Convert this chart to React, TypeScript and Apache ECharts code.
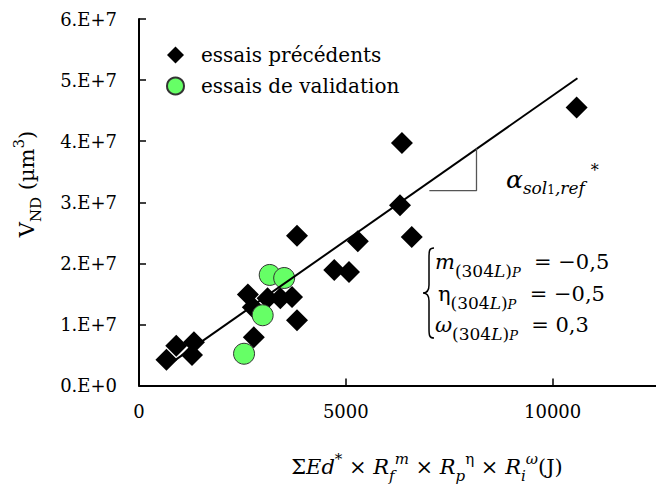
import React, { useEffect, useRef } from "react";
import * as echarts from "echarts";

// ---- data ----
const precedX = [664, 901, 1281, 1329, 2633, 2752, 2776, 3108, 3416, 3700, 3820, 3820, 4721, 5077, 5290, 6310, 6358, 6595, 10581];
const precedY = [4.2e6, 6.5e6, 5.0e6, 7.1e6, 1.49e7, 1.28e7, 0.79e7, 1.43e7, 1.43e7, 1.45e7, 1.07e7, 2.45e7, 1.89e7, 1.86e7, 2.36e7, 2.95e7, 3.97e7, 2.43e7, 4.55e7];
const validX = [2540, 2990, 3160, 3510];
const validY = [5.2e6, 1.15e7, 1.81e7, 1.76e7];
const trendX = [650, 10600];
const trendY = [3.1e6, 5.03e7];
const slopeX = [7020, 8160, 8160];
const slopeY = [3.19e7, 3.19e7, 3.88e7];
const legendNames = ["essais précédents", "essais de validation"];
const xMin = 0;
const xMax = 12500;
const xInterval = 5000;
const yMin = 0;
const yMax = 6e7;
const yInterval = 1e7;

const FONT = "DejaVu Serif";
const bracePath = "M11,0 C6,0 6,3 6,10 L6,37 C6,42 4,45 0,45 C4,45 6,48 6,53 L6,80 C6,87 6,90 11,90";

function yLabel(v: number): string {
  const m = Math.round(v / 1e7);
  return m === 0 ? "0.E+0" : `${m}.E+7`;
}

export default function App() {
  const ref = useRef<HTMLDivElement>(null);
  useEffect(() => {
    try {
      echarts.graphic.registerShape("brace", echarts.graphic.extendPath(bracePath, {}) as any);
    } catch (e) {}
    const chart = echarts.init(ref.current!, null, { renderer: "svg" });
    const M = 21;
    const eqRich = {
      m: { fontSize: M, fontFamily: FONT, lineHeight: 34, fill: "#000" },
      mi: { fontSize: M, fontFamily: FONT, fontStyle: "italic", lineHeight: 34, fill: "#000" },
      s: { fontSize: 17, fontFamily: FONT, lineHeight: 25, verticalAlign: "bottom", fill: "#000" },
      si: { fontSize: 17, fontFamily: FONT, fontStyle: "italic", lineHeight: 25, verticalAlign: "bottom", fill: "#000" },
      s2: { fontSize: 13, fontFamily: FONT, fontStyle: "italic", lineHeight: 14, verticalAlign: "bottom", fill: "#000" },
    };
    const titleRich = {
      m: { fontSize: 21, fontFamily: FONT, lineHeight: 32, fill: "#000" },
      i: { fontSize: 21, fontFamily: FONT, fontStyle: "italic", lineHeight: 32, fill: "#000" },
      sub: { fontSize: 15, fontFamily: FONT, lineHeight: 22, verticalAlign: "bottom", fill: "#000" },
      subi: { fontSize: 15, fontFamily: FONT, fontStyle: "italic", lineHeight: 22, verticalAlign: "bottom", fill: "#000" },
      sup: { fontSize: 15, fontFamily: FONT, lineHeight: 20, verticalAlign: "top", fill: "#000" },
      supi: { fontSize: 15, fontFamily: FONT, fontStyle: "italic", lineHeight: 20, verticalAlign: "top", fill: "#000" },
    };
    const alphaRich = {
      a: { fontSize: 25, fontFamily: FONT, fontStyle: "italic", lineHeight: 34, fill: "#000" },
      s: { fontSize: 17, fontFamily: FONT, fontStyle: "italic", lineHeight: 24, verticalAlign: "bottom", fill: "#000" },
      s2: { fontSize: 12, fontFamily: FONT, lineHeight: 14, verticalAlign: "bottom", fill: "#000" },
      sup: { fontSize: 16, fontFamily: FONT, lineHeight: 14, verticalAlign: "top", fill: "#000", padding: [0, 0, 0, 6] },
    };
    const option: any = {
      animation: false,
      backgroundColor: "#fff",
      textStyle: { fontFamily: FONT },
      grid: { left: 139, top: 19, width: 527, height: 366.5 },
      xAxis: {
        type: "value",
        min: xMin,
        max: xMax,
        interval: xInterval,
        axisLine: { show: true, lineStyle: { color: "#000", width: 2 } },
        axisTick: { show: true, inside: true, length: 7, lineStyle: { color: "#000", width: 1.5 } },
        axisLabel: { color: "#000", fontSize: 18, fontFamily: FONT, margin: 17, showMaxLabel: false, formatter: (v: number) => String(v) },
        splitLine: { show: false },
      },
      yAxis: {
        type: "value",
        min: yMin,
        max: yMax,
        interval: yInterval,
        axisLine: { show: true, lineStyle: { color: "#000", width: 2 } },
        axisTick: { show: true, inside: true, length: 7, lineStyle: { color: "#000", width: 1.5 } },
        axisLabel: { color: "#000", fontSize: 18, fontFamily: FONT, margin: 22, formatter: yLabel },
        splitLine: { show: false },
      },
      legend: {
        data: legendNames,
        orient: "vertical",
        left: 161,
        top: 40,
        itemWidth: 17,
        itemHeight: 17,
        itemGap: 11,
        textStyle: { fontSize: 20, fontFamily: FONT, color: "#000", padding: [0, 0, 0, 12] },
      },
      series: [
        {
          name: legendNames[0],
          type: "scatter",
          symbol: "diamond",
          symbolSize: 22,
          itemStyle: { color: "#000", opacity: 1 },
          data: precedX.map((x, i) => [x, precedY[i]]),
          z: 2,
        },
        {
          name: legendNames[1],
          type: "scatter",
          symbol: "circle",
          symbolSize: 21,
          itemStyle: { color: "#66FF66", borderColor: "#333", borderWidth: 1, opacity: 1 },
          data: validX.map((x, i) => [x, validY[i]]),
          z: 3,
        },
        {
          type: "line",
          symbol: "none",
          lineStyle: { color: "#000", width: 2 },
          data: trendX.map((x, i) => [x, trendY[i]]),
          z: 4,
          silent: true,
        },
        {
          type: "line",
          symbol: "none",
          lineStyle: { color: "#555", width: 1.3 },
          data: slopeX.map((x, i) => [x, slopeY[i]]),
          z: 4,
          silent: true,
        },
      ],
      graphic: [
        {
          type: "text",
          x: 27,
          y: 184,
          rotation: Math.PI / 2,
          style: {
            text: "{m|V}{sub|ND}{m| (µm}{sup|3}{m|)}",
            rich: titleRich,
            align: "center",
            verticalAlign: "middle",
          },
        },
        {
          type: "text",
          x: 427,
          y: 467,
          style: {
            text: "{m|Σ}{i|Ed}{sup|*}{m| × }{i|R}{subi|f}{supi|m}{m| × }{i|R}{subi|p}{sup|η}{m| × }{i|R}{subi|i}{supi|ω}{m|(J)}",
            rich: titleRich,
            align: "center",
            verticalAlign: "middle",
          },
        },
        {
          type: "text",
          x: 506,
          y: 179,
          style: {
            text: "{a|α}{s|sol}{s2|1}{s|,ref}{sup|*}",
            rich: alphaRich,
            align: "left",
            verticalAlign: "middle",
          },
        },
        {
          type: "brace",
          x: 423,
          y: 248,
          style: { stroke: "#000", fill: "none", lineWidth: 1.5 },
        },
        {
          type: "text",
          x: 435,
          y: 262,
          style: { text: "{mi|m}{s|(304}{si|L}{s|)}{s2|P}{m|  = −0,5}", rich: eqRich, align: "left", verticalAlign: "middle" },
        },
        {
          type: "text",
          x: 438,
          y: 294,
          style: { text: "{m|η}{s|(304}{si|L}{s|)}{s2|P}{m|  = −0,5}", rich: eqRich, align: "left", verticalAlign: "middle" },
        },
        {
          type: "text",
          x: 435,
          y: 325,
          style: { text: "{mi|ω}{s|(304}{si|L}{s|)}{s2|P}{m|  = 0,3}", rich: eqRich, align: "left", verticalAlign: "middle" },
        },
      ],
    };
    chart.setOption(option);
    return () => chart.dispose();
  }, []);
  return <div ref={ref} style={{ position: "absolute", left: 0, top: 0, width: 656, height: 486 }} />;
}
